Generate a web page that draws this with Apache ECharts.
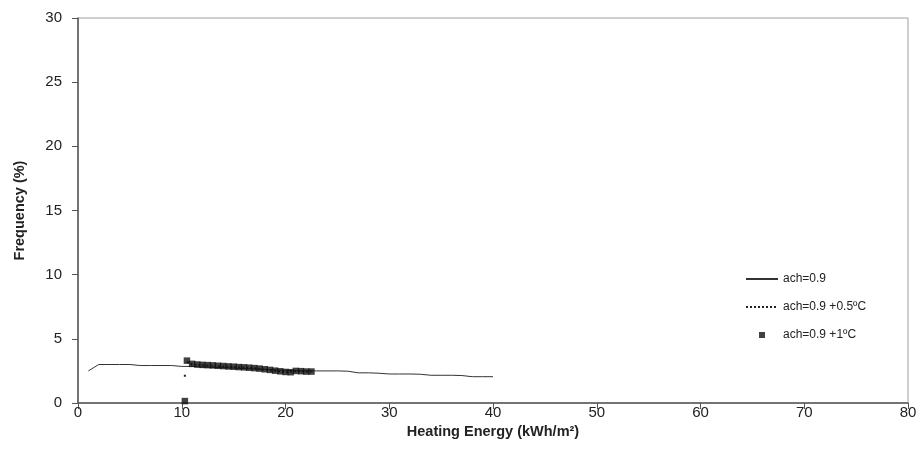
<!DOCTYPE html>
<html><head><meta charset="utf-8">
<script src="https://cdn.jsdelivr.net/npm/echarts@6/dist/echarts.min.js"></script>
<style>html,body{margin:0;padding:0;background:#fff}#c{width:921px;height:465px}</style>
</head><body><div id="c"></div>
<script>
var xTicks = [0,10,20,30,40,50,60,70,80];
var yTicks = [0,5,10,15,20,25,30];
var seriesNames = ['ach=0.9','ach=0.9 +0.5ºC','ach=0.9 +1ºC'];
// ach=0.9 (solid)
var base_x = [1,2,3,4,5,6,7,8,9,10,11,12,13,14,15,16,17,18,19,20,21,22,23,24,25,26,27,28,29,30,31,32,33,34,35,36,37,38,39,40];
var base_y = [2.5,3.0,3.0,3.0,3.0,2.92,2.92,2.92,2.92,2.85,2.85,2.8,2.78,2.75,2.72,2.68,2.65,2.62,2.58,2.55,2.52,2.5,2.5,2.5,2.5,2.48,2.35,2.35,2.32,2.26,2.26,2.26,2.24,2.16,2.16,2.16,2.14,2.05,2.05,2.05];
// ach=0.9 +0.5ºC (dotted)
var half_x = [10.3,10.3,null,10.5,11,12,13,14,15,16,17,18,19,20,21,22,22.5];
var half_y = [2.05,2.25,null,3.2,3.0,2.95,2.9,2.85,2.8,2.75,2.7,2.6,2.5,2.4,2.48,2.45,2.45];
// ach=0.9 +1ºC (squares)
var one_x = [10.3,10.5,11,11.5,12,12.5,13,13.5,14,14.5,15,15.5,16,16.5,17,17.5,18,18.5,19,19.5,20,20.5,21,21.5,22,22.5];
var one_y = [0.15,3.3,3.05,3.0,2.97,2.95,2.93,2.9,2.88,2.85,2.83,2.8,2.78,2.75,2.72,2.68,2.63,2.58,2.52,2.47,2.42,2.4,2.5,2.48,2.45,2.45];

function pairs(xs, ys){ return xs.map(function(x,i){ return (x===null||ys[i]===null) ? [null,null] : [x, ys[i]]; }); }

var chart = echarts.init(document.getElementById('c'));
var FONT = 'Liberation Sans, Arial, sans-serif';
chart.setOption({
  animation:false,
  backgroundColor:'#fff',
  textStyle:{fontFamily:FONT},
  grid:{left:78,right:13,top:18,bottom:62,show:true,borderColor:'#a0a0a0',borderWidth:1,containLabel:false},
  legend:{
    orient:'vertical', left:740, top:268, itemWidth:32, itemHeight:6, itemGap:16,
    textStyle:{fontFamily:FONT,fontSize:12,color:'#222'},
    data:[
      {name:seriesNames[0], itemStyle:{color:'transparent',borderWidth:0}},
      {name:seriesNames[1], itemStyle:{color:'transparent',borderWidth:0}},
      {name:seriesNames[2], icon:'path://M0,0h1v1h-1z', itemStyle:{color:'#111'}}
    ],
    selectedMode:false
  },
  xAxis:{
    type:'value', min:0, max:80, interval:10,
    axisLine:{show:true,lineStyle:{color:'#555',width:1.5}},
    axisTick:{show:true,inside:false,length:6,lineStyle:{color:'#555'}},
    axisLabel:{fontSize:15,color:'#222',margin:2,fontFamily:FONT},
    splitLine:{show:false},
    name:'Heating Energy (kWh/m²)', nameLocation:'middle', nameGap:9,
    nameTextStyle:{fontSize:14.5,fontWeight:'bold',color:'#222',fontFamily:FONT}
  },
  yAxis:{
    type:'value', min:0, max:30, interval:5,
    axisLine:{show:true,lineStyle:{color:'#555',width:1.5}},
    axisTick:{show:true,inside:false,length:6,lineStyle:{color:'#555'}},
    axisLabel:{fontSize:15,color:'#222',margin:16,fontFamily:FONT},
    splitLine:{show:false},
    name:'Frequency (%)', nameLocation:'middle', nameGap:51, nameRotate:90,
    nameTextStyle:{fontSize:14.5,fontWeight:'bold',color:'#222',fontFamily:FONT}
  },
  series:[
    {name:seriesNames[0], type:'line', data:pairs(base_x,base_y), symbol:'none', showSymbol:false,
     lineStyle:{color:'#333',width:1}, itemStyle:{color:'#333'}, z:2},
    {name:seriesNames[1], type:'line', data:pairs(half_x,half_y), symbol:'none', showSymbol:false, connectNulls:false,
     lineStyle:{color:'#222',width:2,type:[2,2]}, itemStyle:{color:'#222'}, z:3},
    {name:seriesNames[2], type:'scatter', data:pairs(one_x,one_y), symbol:'rect', symbolSize:6.5,
     itemStyle:{color:'#111'}, z:4}
  ]
});
</script></body></html>
